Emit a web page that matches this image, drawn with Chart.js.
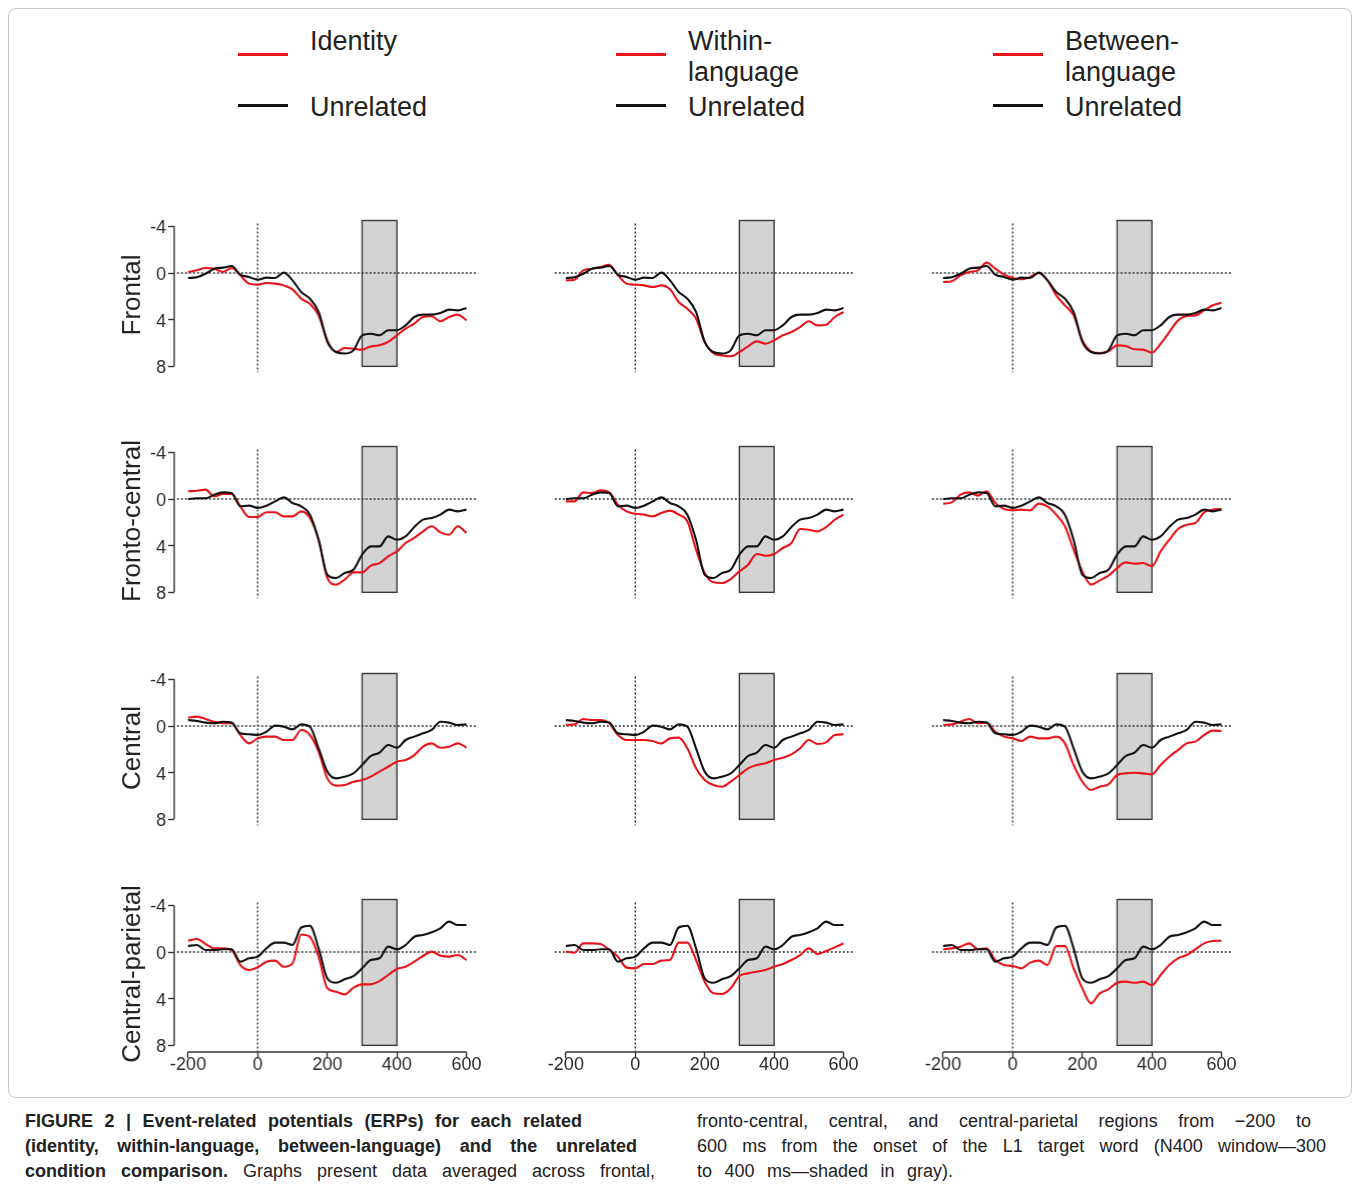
<!DOCTYPE html>
<html>
<head>
<meta charset="utf-8">
<title>ERP comparison</title>
<script src="https://cdn.jsdelivr.net/npm/chart.js@4.4.1/dist/chart.umd.min.js"></script>
<style>
  body { margin: 0; background: #fff; }
  #page { position: relative; width: 1357px; height: 1188px; overflow: hidden; font-family: "Liberation Sans", Arial, sans-serif; }
  .frame { position: absolute; left: 8px; top: 8px; width: 1344px; height: 1090px; border: 1.5px solid #c8c8c8; border-radius: 8px; box-sizing: border-box; }
  .panel { position: absolute; }
  .leg-line { position: absolute; width: 50px; height: 3px; }
  .leg-txt { position: absolute; font-size: 27px; line-height: 31px; color: #222; white-space: nowrap; }
  .cap { position: absolute; font-family: "Liberation Sans", Arial, sans-serif; font-size: 18px; line-height: 25px; color: #222; white-space: nowrap; text-align: justify; text-align-last: justify; }
  .cap b { font-weight: bold; }
</style>
</head>
<body>
<div id="page">
  <div class="frame"></div>
  <div id="legend"></div>
  <div id="panels"></div>

  <div class="cap" style="left:25px; top:1108.5px; width:557px;"><b>FIGURE 2 | Event-related potentials (ERPs) for each related</b></div>
  <div class="cap" style="left:25px; top:1133.5px; width:612px;"><b>(identity, within-language, between-language) and the unrelated</b></div>
  <div class="cap" style="left:25px; top:1158.5px; width:630px;"><b>condition comparison.</b> Graphs present data averaged across frontal,</div>
  <div class="cap" style="left:697px; top:1108.5px; width:614px;">fronto-central, central, and central-parietal regions from −200 to</div>
  <div class="cap" style="left:697px; top:1133.5px; width:629px;">600 ms from the onset of the L1 target word (N400 window—300</div>
  <div class="cap" style="left:697px; top:1158.5px; width:256px;">to 400 ms—shaded in gray).</div>
</div>

<script>
// time points (ms) and axis ticks
const times = [-200, -175, -150, -125, -100, -75, -50, -25, 0, 25, 50, 75, 100, 125, 150, 175,
  200, 225, 250, 275, 300, 325, 350, 375, 400, 425, 450, 475, 500, 525, 550, 575, 600];
const xTicks = [-200, 0, 200, 400, 600];
const yTicks = [-4, 0, 4, 8];
const n400Window = [300, 400];

const regions = ['Frontal', 'Fronto-central', 'Central', 'Central-parietal'];
const conditions = ['Identity', 'Within-language', 'Between-language'];

// unrelated condition (same curve in every column of a row), µV
const unrelFrontal = [0.43, 0.37, 0.06, -0.37, -0.46, -0.6, 0.14, 0.34, 0.57, 0.4, 0.43, -0.03, 0.63, 1.63, 2.2, 3.34,
  5.9, 6.77, 6.9, 6.63, 5.34, 5.2, 5.34, 4.9, 4.9, 4.49, 3.77, 3.57, 3.57, 3.43, 3.14, 3.2, 3.0];
const unrelFrontoCentral = [0, -0.06, -0.06, -0.37, -0.57, -0.51, 0.63, 0.57, 0.77, 0.57, 0.2, -0.14, 0.34, 0.63, 1.34, 3.49,
  6.49, 6.77, 6.34, 6.06, 4.77, 4.06, 4.06, 3.2, 3.49, 3.2, 2.4, 1.77, 1.63, 1.34, 0.91, 1.06, 0.91];
const unrelCentral = [-0.51, -0.43, -0.29, -0.23, -0.37, -0.29, 0.63, 0.71, 0.77, 0.49, -0.03, 0.06, 0.29, -0.14, 0.06, 1.91,
  3.91, 4.49, 4.34, 4.06, 3.34, 2.57, 2.29, 1.63, 1.86, 1.2, 0.91, 0.63, 0.34, -0.37, -0.29, -0.09, -0.14];
const unrelCentralParietal = [-0.51, -0.6, -0.17, -0.17, -0.23, -0.23, 0.83, 0.54, 0.4, -0.31, -0.8, -0.8, -0.6, -2.1, -2.25, -0.31,
  2.26, 2.63, 2.34, 2.06, 1.4, 0.69, 0.54, -0.46, -0.23, -0.6, -1.31, -1.46, -1.69, -2.03, -2.6, -2.31, -2.31];

// related conditions, µV
const identityFrontal = [-0.09, -0.23, -0.43, -0.37, -0.09, -0.43, 0.2, 0.91, 1.0, 0.86, 0.91, 1.06, 1.4, 2.2, 2.63, 3.63,
  5.77, 6.77, 6.43, 6.49, 6.57, 6.29, 6.2, 5.91, 5.34, 4.77, 4.34, 3.77, 3.71, 4.14, 3.77, 3.57, 4.06];
const withinFrontal = [0.63, 0.57, -0.23, -0.37, -0.51, -0.71, 0.2, 0.91, 1.0, 1.06, 1.2, 1.06, 1.4, 2.49, 3.06, 3.91,
  5.91, 6.86, 7.06, 7.14, 6.77, 6.29, 5.86, 6.06, 5.77, 5.34, 5.06, 4.63, 4.14, 4.49, 4.43, 3.77, 3.34];
const betweenFrontal = [0.77, 0.71, 0.2, -0.09, -0.23, -0.89, -0.37, 0.14, 0.43, 0.54, 0.34, 0, 0.63, 1.91, 2.77, 3.63,
  5.77, 6.71, 6.86, 6.71, 6.2, 6.26, 6.54, 6.57, 6.83, 6.06, 5.06, 4.06, 3.69, 3.63, 3.2, 2.77, 2.54];

const identityFrontoCentral = [-0.66, -0.71, -0.8, -0.23, -0.43, -0.43, 0.63, 1.54, 1.54, 1.14, 1.14, 1.49, 1.49, 1.06, 1.63, 3.49,
  6.77, 7.34, 6.91, 6.29, 6.29, 5.71, 5.49, 4.91, 4.49, 3.77, 3.34, 2.77, 2.34, 2.86, 3.06, 2.34, 2.91];
const withinFrontoCentral = [0.2, 0.2, -0.57, -0.51, -0.74, -0.57, 0.49, 1.06, 1.26, 1.34, 1.49, 1.2, 1.0, 1.34, 1.91, 4.34,
  6.34, 7.14, 7.2, 6.86, 6.2, 5.63, 4.71, 4.86, 4.71, 4.2, 3.77, 2.57, 2.63, 2.77, 2.4, 1.77, 1.34];
const betweenFrontoCentral = [0.4, 0.29, -0.37, -0.57, -0.29, -0.66, 0.34, 0.86, 0.97, 0.91, 0.97, 0.4, 0.63, 1.34, 2.34, 4.34,
  6.2, 7.34, 6.97, 6.57, 5.91, 5.43, 5.54, 5.49, 5.77, 4.49, 3.49, 2.57, 2.2, 2.06, 1.14, 0.91, 0.86];

const identityCentral = [-0.71, -0.8, -0.6, -0.37, -0.23, -0.23, 0.77, 1.49, 1.06, 0.91, 0.91, 1.2, 1.2, 0.34, 0.77, 2.2,
  4.49, 5.11, 5.06, 4.77, 4.63, 4.34, 3.91, 3.49, 3.06, 2.91, 2.49, 1.77, 1.49, 1.86, 1.77, 1.49, 1.86];
const withinCentral = [-0.09, -0.14, -0.6, -0.51, -0.51, -0.23, 0.77, 1.2, 1.2, 1.2, 1.29, 1.49, 1.06, 1.0, 1.91, 3.63,
  4.63, 5.06, 5.2, 4.77, 4.2, 3.63, 3.34, 3.2, 2.91, 2.71, 2.43, 1.91, 1.2, 1.54, 1.4, 0.77, 0.71];
const betweenCentral = [-0.09, -0.14, -0.37, -0.6, -0.23, -0.29, 0.49, 0.91, 1.06, 1.29, 0.91, 1.06, 1.06, 0.91, 1.49, 3.34,
  4.77, 5.49, 5.2, 5.0, 4.2, 4.06, 4.0, 4.06, 4.14, 3.34, 2.63, 2.06, 1.49, 1.34, 0.77, 0.4, 0.43];

const identityCentralParietal = [-0.97, -1.11, -0.69, -0.31, -0.31, -0.17, 1.11, 1.54, 1.31, 0.83, 0.74, 1.26, 0.97, -1.5, -1.3, 0.4,
  3.11, 3.4, 3.63, 3.06, 2.77, 2.77, 2.49, 1.97, 1.46, 1.26, 0.83, 0.34, -0.03, 0.31, 0.4, 0.26, 0.69];
const withinCentralParietal = [-0.03, 0.06, -0.74, -0.74, -0.69, -0.17, 0.4, 1.34, 1.4, 1.03, 1.03, 0.74, 0.69, -0.8, -0.8, 0.69,
  2.54, 3.54, 3.6, 3.11, 2.06, 1.83, 1.69, 1.54, 1.26, 1.03, 0.69, 0.26, -0.31, 0.17, -0.09, -0.4, -0.74];
const betweenCentralParietal = [-0.23, -0.31, -0.46, -0.74, -0.23, -0.31, 0.69, 1.11, 1.2, 1.4, 0.91, 0.74, 1.11, -0.5, -0.5, 1.4,
  3.11, 4.4, 3.54, 3.2, 2.63, 2.54, 2.63, 2.54, 2.83, 1.97, 1.11, 0.54, 0.26, -0.23, -0.74, -0.94, -0.97];

const unrelated = [unrelFrontal, unrelFrontoCentral, unrelCentral, unrelCentralParietal];
const related = [
  [identityFrontal, withinFrontal, betweenFrontal],
  [identityFrontoCentral, withinFrontoCentral, betweenFrontoCentral],
  [identityCentral, withinCentral, betweenCentral],
  [identityCentralParietal, withinCentralParietal, betweenCentralParietal]
];

const RED = '#e8141b';
const BLACK = '#111111';
const FONT = 'Liberation Sans';

// legend (html)
const legendLabels = [['Identity'], ['Within-', 'language'], ['Between-', 'language']];
const legendX = [238, 616, 993];
const legend = document.getElementById('legend');
legendLabels.forEach((lines, i) => {
  const x = legendX[i];
  legend.insertAdjacentHTML('beforeend',
    `<div class="leg-line" style="left:${x}px;top:52.5px;background:${RED}"></div>` +
    `<div class="leg-txt" style="left:${x + 72}px;top:25.5px">${lines.join('<br>')}</div>` +
    `<div class="leg-line" style="left:${x}px;top:103.5px;background:${BLACK}"></div>` +
    `<div class="leg-txt" style="left:${x + 72}px;top:91.5px">Unrelated</div>`);
});

// draws the N400 box, the dotted zero lines and the short axis lines
const erpDecor = {
  id: 'erpDecor',
  beforeDatasetsDraw(chart) {
    const { ctx, scales: { x, y } } = chart;
    ctx.save();
    const bx0 = x.getPixelForValue(n400Window[0]), bx1 = x.getPixelForValue(n400Window[1]);
    const by0 = y.getPixelForValue(-4.5), by1 = y.getPixelForValue(8);
    ctx.fillStyle = '#d3d3d3';
    ctx.fillRect(bx0, by0, bx1 - bx0, by1 - by0);
    ctx.strokeStyle = '#3a3a3a';
    ctx.lineWidth = 1.4;
    ctx.strokeRect(bx0, by0, bx1 - bx0, by1 - by0);

    ctx.setLineDash([2, 2]);
    ctx.strokeStyle = '#333';
    ctx.lineWidth = 1.4;
    ctx.beginPath();
    ctx.moveTo(x.getPixelForValue(-232), y.getPixelForValue(0));
    ctx.lineTo(x.getPixelForValue(632), y.getPixelForValue(0));
    ctx.moveTo(x.getPixelForValue(0), y.getPixelForValue(-4.25));
    ctx.lineTo(x.getPixelForValue(0), y.getPixelForValue(8.5));
    ctx.stroke();
    ctx.restore();
  },
  afterDraw(chart, args, opts) {
    const { ctx, chartArea, scales: { x, y } } = chart;
    ctx.save();
    ctx.strokeStyle = '#333';
    ctx.lineWidth = 1.4;
    ctx.beginPath();
    if (opts.yAxis) {
      ctx.moveTo(chartArea.left, y.getPixelForValue(yTicks[0]));
      ctx.lineTo(chartArea.left, y.getPixelForValue(yTicks[yTicks.length - 1]));
    }
    if (opts.xAxis) {
      ctx.moveTo(x.getPixelForValue(xTicks[0]), chartArea.bottom);
      ctx.lineTo(x.getPixelForValue(xTicks[xTicks.length - 1]), chartArea.bottom);
    }
    ctx.stroke();
    ctx.restore();
  }
};

// panel placement: left / top edge of each plot area
const colLeft = [174.4, 551.9, 929.4];
const rowTop = [216.7, 443.3, 669.7, 896.0];
const plotW = 305.4, plotH = 156, axisW = 75, axisH = 40, padTop = 20, padRight = 12;

const toPoints = vals => times.map((t, i) => ({ x: t, y: vals[i] }));

const panels = document.getElementById('panels');
regions.forEach((region, r) => {
  conditions.forEach((cond, c) => {
    const box = document.createElement('div');
    box.className = 'panel';
    box.style.left = (colLeft[c] - axisW) + 'px';
    box.style.top = (rowTop[r] - padTop) + 'px';
    box.style.width = (axisW + plotW + padRight) + 'px';
    box.style.height = (padTop + plotH + axisH) + 'px';
    const canvas = document.createElement('canvas');
    box.appendChild(canvas);
    panels.appendChild(box);

    const bottomRow = r === regions.length - 1;
    const firstCol = c === 0;

    new Chart(canvas, {
      type: 'line',
      data: {
        datasets: [
          { label: 'Unrelated', data: toPoints(unrelated[r]), borderColor: BLACK, order: 0 },
          { label: cond, data: toPoints(related[r][c]), borderColor: RED, order: 1 }
        ]
      },
      options: {
        animation: false,
        responsive: true,
        maintainAspectRatio: false,
        layout: { padding: { top: padTop, right: padRight, left: 0, bottom: 0 } },
        elements: {
          point: { radius: 0 },
          line: { borderWidth: 2.1, cubicInterpolationMode: 'monotone' }
        },
        plugins: {
          legend: { display: false },
          tooltip: { enabled: false },
          erpDecor: { yAxis: firstCol, xAxis: bottomRow }
        },
        scales: {
          x: {
            type: 'linear',
            min: -240,
            max: 640,
            afterFit: s => { s.height = axisH; },
            afterBuildTicks: s => { s.ticks = xTicks.map(v => ({ value: v })); },
            ticks: {
              display: bottomRow, autoSkip: false, maxRotation: 0, padding: -4,
              color: '#2a2a2a', font: { family: FONT, size: 18 },
              callback: v => String(v)
            },
            grid: { display: bottomRow, drawOnChartArea: false, tickLength: 6, tickColor: '#333', tickWidth: 1.4 },
            border: { display: false }
          },
          y: {
            type: 'linear',
            reverse: true,
            min: -4.8,
            max: 8.57,
            afterFit: s => { s.width = axisW; },
            afterBuildTicks: s => { s.ticks = yTicks.map(v => ({ value: v })); },
            ticks: {
              display: firstCol, padding: 2, labelOffset: 2,
              color: '#2a2a2a', font: { family: FONT, size: 18 },
              callback: v => String(v)
            },
            grid: { display: firstCol, drawOnChartArea: false, tickLength: 6, tickColor: '#333', tickWidth: 1.4 },
            border: { display: false },
            title: {
              display: firstCol, text: region, color: '#222',
              font: { family: FONT, size: 26 }, padding: { top: 18, bottom: 0 }
            }
          }
        }
      },
      plugins: [erpDecor]
    });
  });
});
</script>
</body>
</html>
